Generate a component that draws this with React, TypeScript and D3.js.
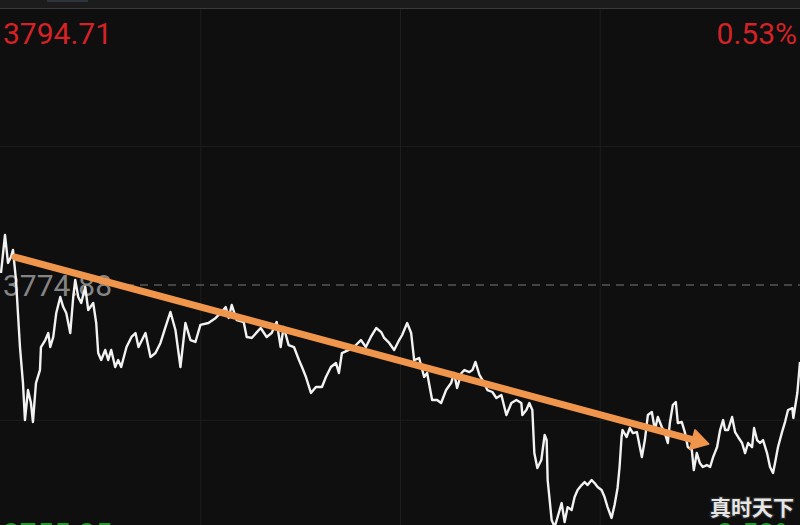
import React from "react";
import * as d3 from "d3";

const W = 800;
const H = 525;

const prevClose = 3774.88;
const priceHigh = 3794.71;
const priceLow = 3755.05;
const pctLabel = "0.53%";
const pctLabelLow = "-0.53%";
const watermark = "真时天下";

// minutes since open
const times = [
  0, 1.2, 2.1, 3.0, 3.6, 4.5, 5.7, 6.6, 7.2, 8.1, 9.0, 9.6, 10.5, 11.7, 12.0, 13.3, 14.2, 14.8, 15.7, 16.6,
  17.8, 18.7, 19.6, 20.8, 21.7, 22.3, 23.2, 24.1, 25.3, 26.2, 27.7, 28.6, 29.2, 30.1, 31.3, 32.2, 33.1, 34.3, 35.2, 36.1,
  37.7, 39.2, 40.4, 41.3, 43.4, 44.9, 46.4, 47.9, 49.4, 50.9, 52.4, 53.9, 55.4, 56.9, 58.4, 59.9, 62.3, 64.5, 66.0, 67.5,
  68.4, 69.3, 70.8, 72.9, 73.8, 75.3, 78.0, 79.8, 81.3, 82.8, 84.0, 84.9, 86.4, 88.0, 89.5, 90.4, 91.6, 93.1, 94.6, 96.4,
  97.6, 99.1, 100.6, 101.5, 102.4, 104.5, 106.0, 108.1, 109.6, 111.1, 112.7, 114.2, 115.1, 116.6, 118.1, 119.6, 120.5, 122.0, 123.2, 124.1,
  125.6, 127.1, 128.0, 129.5, 131.0, 132.2, 133.7, 135.2, 136.1, 137.0, 138.3, 139.2, 140.7, 141.6, 142.5, 143.7, 144.6, 146.1, 147.6, 148.8,
  150.3, 151.8, 153.3, 154.8, 156.3, 156.6, 157.8, 158.7, 159.6, 160.2, 161.1, 162.3, 163.3, 163.9, 164.2, 164.8, 165.4, 166.3, 167.2, 168.4,
  169.3, 170.2, 171.4, 172.3, 173.2, 174.4, 175.3, 176.2, 177.4, 178.3, 179.2, 180.4, 181.3, 182.2, 183.4, 184.3, 185.2, 185.8, 186.4, 186.7,
  187.9, 188.9, 189.8, 191.0, 191.9, 192.5, 193.4, 194.3, 195.5, 196.4, 197.3, 198.5, 199.4, 200.3, 200.9, 201.8, 202.7, 203.3, 204.5, 205.4,
  206.3, 207.5, 208.1, 209.0, 209.9, 210.8, 212.0, 213.0, 213.9, 215.1, 216.0, 216.9, 217.5, 218.4, 219.6, 220.5, 221.4, 222.6, 223.5, 224.4,
  225.6, 226.2, 227.1, 228.0, 228.9, 230.1, 231.0, 231.9, 232.5, 233.4, 234.6, 235.5, 236.4, 237.7, 238.0, 239.2, 240.0,
];

const prices = [
  3775.74, 3778.46, 3776.46, 3776.88, 3777.39, 3775.24, 3770.44, 3767.86, 3765.21, 3767.36, 3766.43, 3765.07, 3767.86, 3768.79, 3770.44, 3770.94, 3771.44, 3770.44, 3771.16, 3772.88,
  3774.02, 3773.30, 3772.88, 3771.44, 3774.02, 3775.24, 3774.02, 3773.59, 3774.74, 3773.09, 3773.59, 3772.16, 3770.01, 3769.51, 3770.23, 3769.51, 3770.23, 3769.01, 3769.51, 3769.01,
  3770.44, 3771.16, 3771.44, 3770.44, 3771.44, 3769.72, 3770.01, 3770.73, 3771.87, 3772.95, 3771.66, 3769.01, 3772.16, 3770.94, 3770.80, 3772.02, 3772.16, 3772.52, 3772.88, 3773.30,
  3772.52, 3773.45, 3772.37, 3772.23, 3771.16, 3771.09, 3771.80, 3771.16, 3771.44, 3772.23, 3770.44, 3771.87, 3770.58, 3770.44, 3769.51, 3769.01, 3768.29, 3767.15, 3767.58, 3767.58,
  3768.29, 3769.01, 3769.30, 3768.58, 3770.01, 3770.23, 3770.44, 3770.94, 3770.44, 3771.16, 3771.80, 3771.51, 3771.09, 3770.73, 3770.23, 3770.94, 3771.30, 3772.16, 3771.44, 3769.51,
  3769.65, 3768.29, 3768.58, 3766.65, 3766.65, 3766.43, 3767.36, 3767.86, 3768.58, 3767.51, 3768.58, 3768.79, 3768.65, 3768.79, 3769.37, 3768.44, 3768.08, 3767.36, 3767.22, 3766.79,
  3767.00, 3765.57, 3766.43, 3766.65, 3766.43, 3765.57, 3765.93, 3766.43, 3765.93, 3762.85, 3761.78, 3762.35, 3764.14, 3763.78, 3760.92, 3759.49, 3758.05, 3757.55, 3758.27, 3759.27,
  3757.91, 3758.98, 3758.77, 3759.70, 3760.20, 3760.56, 3760.77, 3760.56, 3760.92, 3760.70, 3760.42, 3760.20, 3759.70, 3758.98, 3758.20, 3759.13, 3760.35, 3761.85, 3764.00, 3764.50,
  3764.00, 3764.64, 3764.28, 3764.35, 3763.28, 3762.56, 3763.78, 3765.57, 3765.79, 3764.50, 3765.43, 3764.71, 3764.28, 3763.57, 3765.00, 3766.29, 3766.50, 3765.00, 3765.07, 3764.35,
  3763.28, 3763.07, 3761.63, 3762.85, 3762.14, 3761.85, 3761.99, 3761.85, 3762.56, 3763.28, 3764.50, 3765.21, 3764.50, 3764.50, 3765.43, 3764.35, 3764.00, 3763.57, 3762.85, 3763.57,
  3763.28, 3764.64, 3763.78, 3763.57, 3763.78, 3762.85, 3761.85, 3761.42, 3762.14, 3763.28, 3764.35, 3765.07, 3765.93, 3766.07, 3765.36, 3767.15, 3769.37,
];

// grid
const gridTimes = [60, 120, 180];
const gridPrices = [3784.8, 3765.2];

// trend arrow (time, price)
const arrowStart = [4.2, 3776.88];
const arrowEnd = [212.6, 3763.5];

export default function App() {
  const x = d3.scaleLinear().domain([0, 240]).range([1, 800]);
  const y = d3.scaleLinear().domain([priceLow, priceHigh]).range([562, 8]);

  const pts: [number, number][] = times.map((t, i) => [t, prices[i]]);
  const line = d3
    .line<[number, number]>()
    .x((d) => x(d[0]))
    .y((d) => y(d[1]));

  const x0 = x(arrowStart[0]);
  const y0 = y(arrowStart[1]);
  const x1 = x(arrowEnd[0]);
  const y1 = y(arrowEnd[1]);
  const len = Math.hypot(x1 - x0, y1 - y0);
  const ux = (x1 - x0) / len;
  const uy = (y1 - y0) / len;
  const headLen = 17;
  const headHalf = 10;
  const bx = x1 - ux * headLen;
  const by = y1 - uy * headLen;
  const head = [
    [x1, y1],
    [bx - uy * headHalf, by + ux * headHalf],
    [bx + uy * headHalf, by - ux * headHalf],
  ]
    .map((p) => p.join(","))
    .join(" ");

  const font = "Roboto, 'Noto Sans', sans-serif";

  return (
    <svg
      width={W}
      height={H}
      style={{ position: "fixed", left: 0, top: 0, display: "block" }}
    >
      <rect x={0} y={0} width={W} height={H} fill="#0f0f0f" />
      <rect x={0} y={0} width={W} height={8} fill="#1c1c1c" />
      <rect x={47} y={0} width={41} height={2} fill="#2e343c" />
      <line x1={0} x2={W} y1={8.5} y2={8.5} stroke="#3a3a3a" strokeWidth={1} />

      {gridTimes.map((t) => (
        <line key={t} x1={x(t)} x2={x(t)} y1={9} y2={H} stroke="#1e1e1e" strokeWidth={1} />
      ))}
      {gridPrices.map((p) => (
        <line key={p} x1={0} x2={W} y1={y(p)} y2={y(p)} stroke="#1e1e1e" strokeWidth={1} />
      ))}
      <line
        x1={112}
        x2={W}
        y1={y(prevClose)}
        y2={y(prevClose)}
        stroke="#7a7a7a"
        strokeWidth={1.2}
        strokeDasharray="8 6"
      />

      <text x={3} y={y(prevClose) + 11} fill="#858585" fontFamily={font} fontSize={30}>
        {prevClose.toFixed(2)}
      </text>

      <path d={line(pts) || ""} fill="none" stroke="#f2f2f2" strokeWidth={2.4} strokeLinejoin="round" />

      <text x={3} y={44} fill="#d42226" fontFamily={font} fontSize={30}>
        {priceHigh.toFixed(2)}
      </text>
      <text x={797} y={44} fill="#d42226" fontFamily={font} fontSize={30} textAnchor="end">
        {pctLabel}
      </text>
      <text x={3} y={543.5} fill="#1f9a2a" fontFamily={font} fontSize={30}>
        {priceLow.toFixed(2)}
      </text>
      <text x={797} y={543.5} fill="#1f9a2a" fontFamily={font} fontSize={30} textAnchor="end">
        {pctLabelLow}
      </text>

      <line x1={x0} y1={y0} x2={bx + ux * 2} y2={by + uy * 2} stroke="#f0954c" strokeWidth={7} strokeLinecap="round" />
      <polygon points={head} fill="#f0954c" stroke="#f0954c" strokeWidth={1.5} strokeLinejoin="round" />

      <text
        x={752}
        y={515}
        fill="#e6e6e6"
        stroke="#2a2a2a"
        strokeWidth={2.5}
        paintOrder="stroke"
        fontFamily="'Noto Sans CJK SC', sans-serif"
        fontWeight={700}
        fontSize={21}
        textAnchor="middle"
      >
        {watermark}
      </text>
    </svg>
  );
}
